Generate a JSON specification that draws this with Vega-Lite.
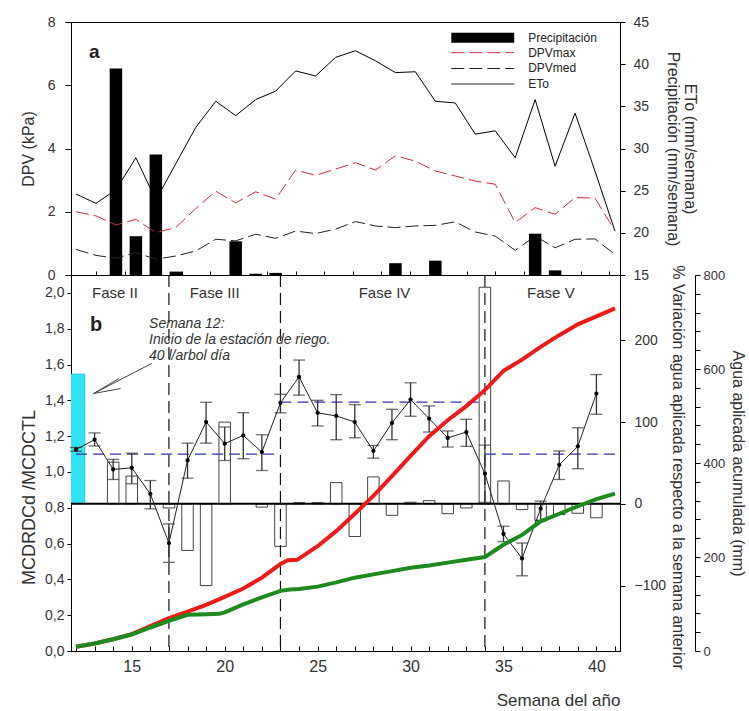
{
  "$schema": "https://vega.github.io/schema/vega-lite/v6.json",
  "padding": {"left": 19, "top": 14, "right": 0, "bottom": 0},
  "background": "white",
  "config": {
    "font": "Liberation Sans",
    "view": {"stroke": "#000", "strokeWidth": 1},
    "axis": {"grid": false, "domainColor": "#000", "tickColor": "#000", "labelColor": "#333", "titleColor": "#333", "titleFontWeight": "normal", "labelFontSize": 14, "titleFontSize": 16, "labelFont": "Liberation Sans", "titleFont": "Liberation Sans"},
    "text": {"font": "Liberation Sans"}
  },
  "datasets": {
    "one": [{}],
    "precip": [
      {"week": 14, "precip": 39.5}, {"week": 15, "precip": 19.6}, {"week": 16, "precip": 29.3}, {"week": 17, "precip": 15.4},
      {"week": 20, "precip": 19.0}, {"week": 21, "precip": 15.15}, {"week": 22, "precip": 15.25}, {"week": 28, "precip": 16.4},
      {"week": 30, "precip": 16.7}, {"week": 35, "precip": 19.9}, {"week": 36, "precip": 15.55}
    ],
    "eto": [
      {"week": 12, "eto": 24.6}, {"week": 13, "eto": 23.5}, {"week": 14, "eto": 25.1}, {"week": 15, "eto": 28.9},
      {"week": 16, "eto": 23.9}, {"week": 17, "eto": 28.2}, {"week": 18, "eto": 32.5}, {"week": 19, "eto": 35.6},
      {"week": 20, "eto": 33.9}, {"week": 21, "eto": 35.8}, {"week": 22, "eto": 36.8}, {"week": 23, "eto": 39.2},
      {"week": 24, "eto": 38.6}, {"week": 25, "eto": 40.8}, {"week": 26, "eto": 41.6}, {"week": 27, "eto": 40.4},
      {"week": 28, "eto": 39.0}, {"week": 29, "eto": 39.1}, {"week": 30, "eto": 35.6}, {"week": 31, "eto": 35.4},
      {"week": 32, "eto": 31.7}, {"week": 33, "eto": 32.1}, {"week": 34, "eto": 28.9}, {"week": 35, "eto": 35.8},
      {"week": 36, "eto": 27.9}, {"week": 37, "eto": 34.2}, {"week": 38, "eto": 27.3}, {"week": 39, "eto": 20.2}
    ],
    "dpv": [
      {"week": 12, "dpv": 2.0, "serie": "DPVmax"}, {"week": 13, "dpv": 1.87, "serie": "DPVmax"}, {"week": 14, "dpv": 1.58, "serie": "DPVmax"},
      {"week": 15, "dpv": 1.76, "serie": "DPVmax"}, {"week": 16, "dpv": 1.34, "serie": "DPVmax"}, {"week": 17, "dpv": 1.5, "serie": "DPVmax"},
      {"week": 18, "dpv": 2.1, "serie": "DPVmax"}, {"week": 19, "dpv": 2.65, "serie": "DPVmax"}, {"week": 20, "dpv": 2.28, "serie": "DPVmax"},
      {"week": 21, "dpv": 2.63, "serie": "DPVmax"}, {"week": 22, "dpv": 2.4, "serie": "DPVmax"}, {"week": 23, "dpv": 3.32, "serie": "DPVmax"},
      {"week": 24, "dpv": 3.15, "serie": "DPVmax"}, {"week": 25, "dpv": 3.35, "serie": "DPVmax"}, {"week": 26, "dpv": 3.55, "serie": "DPVmax"},
      {"week": 27, "dpv": 3.32, "serie": "DPVmax"}, {"week": 28, "dpv": 3.77, "serie": "DPVmax"}, {"week": 29, "dpv": 3.6, "serie": "DPVmax"},
      {"week": 30, "dpv": 3.29, "serie": "DPVmax"}, {"week": 31, "dpv": 3.13, "serie": "DPVmax"}, {"week": 32, "dpv": 2.97, "serie": "DPVmax"},
      {"week": 33, "dpv": 2.87, "serie": "DPVmax"}, {"week": 34, "dpv": 1.66, "serie": "DPVmax"}, {"week": 35, "dpv": 2.13, "serie": "DPVmax"},
      {"week": 36, "dpv": 1.92, "serie": "DPVmax"}, {"week": 37, "dpv": 2.45, "serie": "DPVmax"}, {"week": 38, "dpv": 2.43, "serie": "DPVmax"},
      {"week": 39, "dpv": 1.39, "serie": "DPVmax"},
      {"week": 12, "dpv": 0.81, "serie": "DPVmed"}, {"week": 13, "dpv": 0.62, "serie": "DPVmed"}, {"week": 14, "dpv": 0.53, "serie": "DPVmed"},
      {"week": 15, "dpv": 0.71, "serie": "DPVmed"}, {"week": 16, "dpv": 0.5, "serie": "DPVmed"}, {"week": 17, "dpv": 0.6, "serie": "DPVmed"},
      {"week": 18, "dpv": 0.76, "serie": "DPVmed"}, {"week": 19, "dpv": 1.13, "serie": "DPVmed"}, {"week": 20, "dpv": 1.08, "serie": "DPVmed"},
      {"week": 21, "dpv": 1.29, "serie": "DPVmed"}, {"week": 22, "dpv": 1.16, "serie": "DPVmed"}, {"week": 23, "dpv": 1.39, "serie": "DPVmed"},
      {"week": 24, "dpv": 1.31, "serie": "DPVmed"}, {"week": 25, "dpv": 1.45, "serie": "DPVmed"}, {"week": 26, "dpv": 1.69, "serie": "DPVmed"},
      {"week": 27, "dpv": 1.55, "serie": "DPVmed"}, {"week": 28, "dpv": 1.5, "serie": "DPVmed"}, {"week": 29, "dpv": 1.55, "serie": "DPVmed"},
      {"week": 30, "dpv": 1.57, "serie": "DPVmed"}, {"week": 31, "dpv": 1.68, "serie": "DPVmed"}, {"week": 32, "dpv": 1.36, "serie": "DPVmed"},
      {"week": 33, "dpv": 1.23, "serie": "DPVmed"}, {"week": 34, "dpv": 0.78, "serie": "DPVmed"}, {"week": 35, "dpv": 1.23, "serie": "DPVmed"},
      {"week": 36, "dpv": 0.86, "serie": "DPVmed"}, {"week": 37, "dpv": 1.13, "serie": "DPVmed"}, {"week": 38, "dpv": 1.14, "serie": "DPVmed"},
      {"week": 39, "dpv": 0.65, "serie": "DPVmed"}
    ],
    "mcd": [
      {"week": 12, "ratio": 1.126, "lo": 1.115, "hi": 1.137}, {"week": 13, "ratio": 1.18, "lo": 1.145, "hi": 1.218},
      {"week": 14, "ratio": 1.014, "lo": 0.958, "hi": 1.07}, {"week": 15, "ratio": 1.023, "lo": 0.934, "hi": 1.105},
      {"week": 16, "ratio": 0.877, "lo": 0.794, "hi": 0.952}, {"week": 17, "ratio": 0.603, "lo": 0.495, "hi": 0.71},
      {"week": 18, "ratio": 1.064, "lo": 0.965, "hi": 1.161}, {"week": 19, "ratio": 1.279, "lo": 1.161, "hi": 1.389},
      {"week": 20, "ratio": 1.158, "lo": 1.064, "hi": 1.251}, {"week": 21, "ratio": 1.204, "lo": 1.074, "hi": 1.331},
      {"week": 22, "ratio": 1.111, "lo": 1.008, "hi": 1.208}, {"week": 23, "ratio": 1.386, "lo": 1.33, "hi": 1.434},
      {"week": 24, "ratio": 1.531, "lo": 1.429, "hi": 1.625}, {"week": 25, "ratio": 1.33, "lo": 1.257, "hi": 1.4},
      {"week": 26, "ratio": 1.313, "lo": 1.18, "hi": 1.432}, {"week": 27, "ratio": 1.279, "lo": 1.191, "hi": 1.376},
      {"week": 28, "ratio": 1.117, "lo": 1.077, "hi": 1.148}, {"week": 29, "ratio": 1.274, "lo": 1.18, "hi": 1.35},
      {"week": 30, "ratio": 1.404, "lo": 1.311, "hi": 1.498}, {"week": 31, "ratio": 1.298, "lo": 1.223, "hi": 1.369},
      {"week": 32, "ratio": 1.19, "lo": 1.139, "hi": 1.229}, {"week": 33, "ratio": 1.223, "lo": 1.143, "hi": 1.294},
      {"week": 34, "ratio": 0.99, "lo": 0.83, "hi": 1.15}, {"week": 35, "ratio": 0.654, "lo": 0.611, "hi": 0.697},
      {"week": 36, "ratio": 0.517, "lo": 0.42, "hi": 0.603}, {"week": 37, "ratio": 0.794, "lo": 0.728, "hi": 0.837},
      {"week": 38, "ratio": 1.04, "lo": 0.958, "hi": 1.117}, {"week": 39, "ratio": 1.143, "lo": 1.018, "hi": 1.247},
      {"week": 40, "ratio": 1.438, "lo": 1.322, "hi": 1.544}
    ],
    "pct": [
      {"week": 14, "pct": 51}, {"week": 15, "pct": 34}, {"week": 17, "pct": -5}, {"week": 18, "pct": -57},
      {"week": 19, "pct": -100}, {"week": 20, "pct": 100}, {"week": 22, "pct": -4}, {"week": 23, "pct": -52},
      {"week": 24, "pct": 1.5}, {"week": 25, "pct": 1.5}, {"week": 26, "pct": 26}, {"week": 27, "pct": -40},
      {"week": 28, "pct": 33}, {"week": 29, "pct": -14}, {"week": 30, "pct": 2}, {"week": 31, "pct": 4},
      {"week": 32, "pct": -12}, {"week": 33, "pct": -5}, {"week": 34, "pct": 265}, {"week": 35, "pct": 28},
      {"week": 36, "pct": -7}, {"week": 37, "pct": -20}, {"week": 38, "pct": -13}, {"week": 39, "pct": -11.5},
      {"week": 40, "pct": -17}
    ],
    "phaseMeans": [
      {"from": 12, "to": 23, "mean": 1.1}, {"from": 23, "to": 34, "mean": 1.39}, {"from": 34, "to": 41, "mean": 1.1}
    ],
    "phaseLimits": [{"week": 17}, {"week": 23}, {"week": 34}],
    "phases": [
      {"week": 14.1, "fase": "Fase II"}, {"week": 19.46, "fase": "Fase III"}, {"week": 28.6, "fase": "Fase IV"}, {"week": 37.55, "fase": "Fase V"}
    ],
    "agua": [
      {"week": 12, "agua": 9, "serie": "RDC"}, {"week": 13, "agua": 16, "serie": "RDC"}, {"week": 14, "agua": 25, "serie": "RDC"},
      {"week": 15, "agua": 36, "serie": "RDC"}, {"week": 16, "agua": 53, "serie": "RDC"}, {"week": 17, "agua": 70, "serie": "RDC"},
      {"week": 18, "agua": 84, "serie": "RDC"}, {"week": 19, "agua": 98, "serie": "RDC"}, {"week": 20, "agua": 115, "serie": "RDC"},
      {"week": 21, "agua": 133, "serie": "RDC"}, {"week": 22, "agua": 156, "serie": "RDC"}, {"week": 23, "agua": 185, "serie": "RDC"},
      {"week": 23.4, "agua": 193, "serie": "RDC"}, {"week": 23.9, "agua": 194, "serie": "RDC"}, {"week": 25, "agua": 223, "serie": "RDC"},
      {"week": 26, "agua": 255, "serie": "RDC"}, {"week": 27, "agua": 292, "serie": "RDC"}, {"week": 28, "agua": 330, "serie": "RDC"},
      {"week": 29, "agua": 372, "serie": "RDC"}, {"week": 30, "agua": 415, "serie": "RDC"}, {"week": 31, "agua": 457, "serie": "RDC"},
      {"week": 32, "agua": 491, "serie": "RDC"}, {"week": 33, "agua": 521, "serie": "RDC"}, {"week": 34, "agua": 555, "serie": "RDC"},
      {"week": 35, "agua": 596, "serie": "RDC"}, {"week": 36, "agua": 620, "serie": "RDC"}, {"week": 37, "agua": 647, "serie": "RDC"},
      {"week": 38, "agua": 672, "serie": "RDC"}, {"week": 39, "agua": 695, "serie": "RDC"}, {"week": 40, "agua": 712, "serie": "RDC"},
      {"week": 41, "agua": 729, "serie": "RDC"},
      {"week": 12, "agua": 9, "serie": "RDCd"}, {"week": 13, "agua": 16, "serie": "RDCd"}, {"week": 14, "agua": 25, "serie": "RDCd"},
      {"week": 15, "agua": 35, "serie": "RDCd"}, {"week": 16, "agua": 50, "serie": "RDCd"}, {"week": 17, "agua": 64, "serie": "RDCd"},
      {"week": 18, "agua": 77, "serie": "RDCd"}, {"week": 19, "agua": 78, "serie": "RDCd"}, {"week": 19.7, "agua": 79, "serie": "RDCd"},
      {"week": 20, "agua": 82, "serie": "RDCd"}, {"week": 21, "agua": 99, "serie": "RDCd"}, {"week": 22, "agua": 114, "serie": "RDCd"},
      {"week": 23, "agua": 128, "serie": "RDCd"}, {"week": 23.5, "agua": 131, "serie": "RDCd"}, {"week": 24, "agua": 132, "serie": "RDCd"},
      {"week": 25, "agua": 137, "serie": "RDCd"}, {"week": 26, "agua": 146, "serie": "RDCd"}, {"week": 27, "agua": 156, "serie": "RDCd"},
      {"week": 28, "agua": 163, "serie": "RDCd"}, {"week": 29, "agua": 170, "serie": "RDCd"}, {"week": 30, "agua": 177, "serie": "RDCd"},
      {"week": 31, "agua": 182, "serie": "RDCd"}, {"week": 32, "agua": 188, "serie": "RDCd"}, {"week": 33, "agua": 194, "serie": "RDCd"},
      {"week": 34, "agua": 200, "serie": "RDCd"}, {"week": 35, "agua": 226, "serie": "RDCd"}, {"week": 36, "agua": 247, "serie": "RDCd"},
      {"week": 37, "agua": 276, "serie": "RDCd"}, {"week": 38, "agua": 292, "serie": "RDCd"}, {"week": 39, "agua": 308, "serie": "RDCd"},
      {"week": 40, "agua": 323, "serie": "RDCd"}, {"week": 41, "agua": 335, "serie": "RDCd"}
    ]
  },
  "vconcat": [
    {
      "width": 549,
      "height": 253,
      "layer": [
        {
          "layer": [
            {
              "data": {"name": "precip"},
              "mark": {"type": "bar", "width": 12.5, "color": "#000"},
              "encoding": {
                "x": {"field": "week", "type": "quantitative", "scale": {"domain": [12, 39], "nice": false, "zero": false},
                  "axis": {"orient": "bottom", "title": null, "labels": false, "tickSize": -4, "values": [13, 14.43, 15.86, 17.29, 18.71, 20.14, 21.57, 23, 24.43, 25.86, 27.29, 28.71, 30.14, 31.57, 33, 34.43, 35.86, 37.29, 38.71]}},
                "y": {"field": "precip", "type": "quantitative", "scale": {"domain": [15, 45], "nice": false, "zero": false},
                  "axis": {"orient": "right", "values": [15, 20, 25, 30, 35, 40, 45], "labelOverlap": false, "tickSize": 5, "labelPadding": 8, "title": ["ETo (mm/semana)", "Precipitación (mm/semana)"], "titlePadding": 16, "titleLineHeight": 17}},
                "y2": {"datum": 15}
              }
            },
            {
              "data": {"name": "eto"},
              "mark": {"type": "line", "color": "#000", "strokeWidth": 1},
              "encoding": {
                "x": {"field": "week", "type": "quantitative", "scale": {"domain": [12, 39], "nice": false, "zero": false}, "axis": null},
                "y": {"field": "eto", "type": "quantitative", "axis": null}
              }
            }
          ],
          "resolve": {"axis": {"x": "independent", "y": "independent"}}
        },
        {
          "layer": [
            {
              "data": {"name": "dpv"},
              "mark": {"type": "line", "strokeWidth": 1},
              "encoding": {
                "x": {"field": "week", "type": "quantitative", "scale": {"domain": [12, 39], "nice": false, "zero": false}, "axis": null},
                "y": {"field": "dpv", "type": "quantitative", "scale": {"domain": [0, 8], "nice": false},
                  "axis": {"orient": "left", "values": [0, 2, 4, 6, 8], "labelOverlap": false, "tickSize": 6, "labelPadding": 10, "title": "DPV (kPa)", "titleX": -43, "titleBaseline": "middle"}},
                "color": {"field": "serie", "type": "nominal", "scale": {"domain": ["DPVmax", "DPVmed"], "range": ["#d42a3a", "#222222"]}, "legend": null},
                "strokeDash": {"field": "serie", "type": "nominal", "scale": {"domain": ["DPVmax", "DPVmed"], "range": [[13, 5], [13, 5]]}, "legend": null}
              }
            },
            {
              "data": {"name": "one"},
              "mark": {"type": "text", "text": "a", "fontSize": 19, "fontWeight": "bold", "color": "#222", "align": "left", "baseline": "middle"},
              "encoding": {"x": {"datum": 12.65, "type": "quantitative", "axis": null}, "y": {"datum": 7.06, "type": "quantitative", "axis": null}}
            },
            {
              "data": {"name": "one"},
              "mark": {"type": "rect", "color": "#000"},
              "encoding": {"x": {"datum": 30.8, "type": "quantitative", "axis": null}, "x2": {"datum": 33.95}, "y": {"datum": 7.66, "type": "quantitative", "axis": null}, "y2": {"datum": 7.34}}
            },
            {
              "data": {"name": "one"},
              "mark": {"type": "rule", "color": "#d42a3a", "strokeWidth": 1, "strokeDash": [13, 5]},
              "encoding": {"x": {"datum": 30.8, "type": "quantitative", "axis": null}, "x2": {"datum": 33.95}, "y": {"datum": 7.03, "type": "quantitative", "axis": null}}
            },
            {
              "data": {"name": "one"},
              "mark": {"type": "rule", "color": "#222", "strokeWidth": 1, "strokeDash": [13, 5]},
              "encoding": {"x": {"datum": 30.8, "type": "quantitative", "axis": null}, "x2": {"datum": 33.95}, "y": {"datum": 6.53, "type": "quantitative", "axis": null}}
            },
            {
              "data": {"name": "one"},
              "mark": {"type": "rule", "color": "#222", "strokeWidth": 1},
              "encoding": {"x": {"datum": 30.8, "type": "quantitative", "axis": null}, "x2": {"datum": 33.95}, "y": {"datum": 6.04, "type": "quantitative", "axis": null}}
            },
            {
              "data": {"name": "one"},
              "mark": {"type": "text", "text": "Precipitación", "fontSize": 12, "color": "#222", "align": "left", "baseline": "middle"},
              "encoding": {"x": {"datum": 34.65, "type": "quantitative", "axis": null}, "y": {"datum": 7.5, "type": "quantitative", "axis": null}}
            },
            {
              "data": {"name": "one"},
              "mark": {"type": "text", "text": "DPVmax", "fontSize": 12, "color": "#222", "align": "left", "baseline": "middle"},
              "encoding": {"x": {"datum": 34.65, "type": "quantitative", "axis": null}, "y": {"datum": 7.03, "type": "quantitative", "axis": null}}
            },
            {
              "data": {"name": "one"},
              "mark": {"type": "text", "text": "DPVmed", "fontSize": 12, "color": "#222", "align": "left", "baseline": "middle"},
              "encoding": {"x": {"datum": 34.65, "type": "quantitative", "axis": null}, "y": {"datum": 6.53, "type": "quantitative", "axis": null}}
            },
            {
              "data": {"name": "one"},
              "mark": {"type": "text", "text": "ETo", "fontSize": 12, "color": "#222", "align": "left", "baseline": "middle"},
              "encoding": {"x": {"datum": 34.65, "type": "quantitative", "axis": null}, "y": {"datum": 6.04, "type": "quantitative", "axis": null}}
            }
          ],
          "resolve": {"axis": {"x": "independent", "y": "independent"}}
        }
      ],
      "resolve": {"scale": {"y": "independent"}, "axis": {"x": "independent", "y": "independent"}}
    },
    {
      "width": 549,
      "height": 376,
      "layer": [
        {
          "layer": [
            {
              "data": {"values": [{"week": 12, "pct": 159}]},
              "mark": {"type": "bar", "width": 18, "color": "#2fe3f0", "stroke": "#1aa9b5", "strokeWidth": 0.5, "clip": true},
              "encoding": {
                "x": {"field": "week", "type": "quantitative", "scale": {"domain": [12, 41], "nice": false, "zero": false},
                  "axis": {"orient": "bottom", "title": "Semana del año", "titleAnchor": "end", "titleFontSize": 17, "titlePadding": 18, "labelFontSize": 16, "values": [12, 13, 14, 15, 16, 17, 18, 19, 20, 21, 22, 23, 24, 25, 26, 27, 28, 29, 30, 31, 32, 33, 34, 35, 36, 37, 38, 39, 40, 41], "labelExpr": "datum.value % 5 == 0 ? datum.label : ''", "labelOverlap": false, "tickSize": -5, "labelPadding": 12}},
                "y": {"field": "pct", "type": "quantitative", "scale": {"domain": [-180, 280], "nice": false, "zero": false},
                  "axis": {"orient": "right", "values": [-100, 0, 100, 200], "labelOverlap": false, "tickSize": 5, "labelPadding": 9, "title": "% Variación agua aplicada respecto a la semana anterior", "titlePadding": 4, "titleY": 192}}
              }
            },
            {
              "data": {"name": "pct"},
              "mark": {"type": "bar", "width": 11.5, "fill": "#fff", "stroke": "#444", "strokeWidth": 1},
              "encoding": {
                "x": {"field": "week", "type": "quantitative", "scale": {"domain": [12, 41], "nice": false, "zero": false}, "axis": null},
                "y": {"field": "pct", "type": "quantitative", "axis": null}
              }
            },
            {
              "data": {"name": "one"},
              "mark": {"type": "rule", "color": "#000", "strokeWidth": 2},
              "encoding": {"y": {"datum": 0, "type": "quantitative", "axis": null}}
            }
          ],
          "resolve": {"axis": {"x": "independent", "y": "independent"}}
        },
        {
          "layer": [
            {
              "data": {"name": "phaseLimits"},
              "mark": {"type": "rule", "color": "#111", "strokeWidth": 1.2, "strokeDash": [12, 6]},
              "encoding": {"x": {"field": "week", "type": "quantitative", "scale": {"domain": [12, 41], "nice": false, "zero": false}, "axis": null}}
            },
            {
              "data": {"name": "phaseMeans"},
              "mark": {"type": "rule", "color": "#3232b4", "strokeWidth": 1.2, "strokeDash": [11, 6]},
              "encoding": {
                "x": {"field": "from", "type": "quantitative", "scale": {"domain": [12, 41], "nice": false, "zero": false}, "axis": null},
                "x2": {"field": "to"},
                "y": {"field": "mean", "type": "quantitative", "scale": {"domain": [0, 2.1], "nice": false, "zero": false},
                  "axis": {"orient": "left", "title": "MCDRDCd /MCDCTL", "values": [0, 0.2, 0.4, 0.6, 0.8, 1.0, 1.2, 1.4, 1.6, 1.8, 2.0], "labelExpr": "replace(format(datum.value, '.1f'), '.', ',')", "labelOverlap": false, "tickSize": 4, "labelPadding": 3, "titleFontSize": 18, "titleX": -42, "titleY": 222, "titleBaseline": "middle"}}
              }
            },
            {
              "data": {"name": "mcd"},
              "mark": {"type": "rule", "color": "#333", "strokeWidth": 1.3},
              "encoding": {
                "x": {"field": "week", "type": "quantitative", "scale": {"domain": [12, 41], "nice": false, "zero": false}, "axis": null},
                "y": {"field": "lo", "type": "quantitative", "axis": null},
                "y2": {"field": "hi"}
              }
            },
            {
              "data": {"name": "mcd"},
              "mark": {"type": "tick", "orient": "horizontal", "size": 12, "thickness": 1.3, "color": "#333"},
              "encoding": {
                "x": {"field": "week", "type": "quantitative", "scale": {"domain": [12, 41], "nice": false, "zero": false}, "axis": null},
                "y": {"field": "lo", "type": "quantitative", "axis": null}
              }
            },
            {
              "data": {"name": "mcd"},
              "mark": {"type": "tick", "orient": "horizontal", "size": 12, "thickness": 1.3, "color": "#333"},
              "encoding": {
                "x": {"field": "week", "type": "quantitative", "scale": {"domain": [12, 41], "nice": false, "zero": false}, "axis": null},
                "y": {"field": "hi", "type": "quantitative", "axis": null}
              }
            },
            {
              "data": {"name": "mcd"},
              "mark": {"type": "line", "color": "#222", "strokeWidth": 1, "point": {"filled": true, "size": 18, "color": "#000"}},
              "encoding": {
                "x": {"field": "week", "type": "quantitative", "scale": {"domain": [12, 41], "nice": false, "zero": false}, "axis": null},
                "y": {"field": "ratio", "type": "quantitative", "axis": null}
              }
            },
            {
              "data": {"name": "phases"},
              "mark": {"type": "text", "fontSize": 15, "color": "#333", "align": "center", "baseline": "middle"},
              "encoding": {
                "x": {"field": "week", "type": "quantitative", "scale": {"domain": [12, 41], "nice": false, "zero": false}, "axis": null},
                "y": {"datum": 2.0, "type": "quantitative", "axis": null},
                "text": {"field": "fase"}
              }
            },
            {
              "data": {"name": "one"},
              "mark": {"type": "text", "text": "b", "fontSize": 20, "fontWeight": "bold", "color": "#222", "align": "left", "baseline": "middle"},
              "encoding": {"x": {"datum": 12.75, "type": "quantitative", "axis": null}, "y": {"datum": 1.82, "type": "quantitative", "axis": null}}
            },
            {
              "data": {"name": "one"},
              "mark": {"type": "text", "text": ["Semana 12:", "Inicio de la estación de riego.", "40 l/arbol día"], "fontSize": 14, "fontStyle": "italic", "color": "#333", "align": "left", "baseline": "middle", "lineHeight": 16},
              "encoding": {"x": {"datum": 15.93, "type": "quantitative", "axis": null}, "y": {"datum": 1.825, "type": "quantitative", "axis": null}}
            },
            {
              "data": {"name": "one"},
              "mark": {"type": "rule", "color": "#444", "strokeWidth": 1},
              "encoding": {"x": {"datum": 16.07, "type": "quantitative", "axis": null}, "x2": {"datum": 12.95}, "y": {"datum": 1.606, "type": "quantitative", "axis": null}, "y2": {"datum": 1.438}}
            },
            {
              "data": {"name": "one"},
              "mark": {"type": "rule", "color": "#444", "strokeWidth": 1},
              "encoding": {"x": {"datum": 14.31, "type": "quantitative", "axis": null}, "x2": {"datum": 12.95}, "y": {"datum": 1.522, "type": "quantitative", "axis": null}, "y2": {"datum": 1.438}}
            },
            {
              "data": {"name": "one"},
              "mark": {"type": "rule", "color": "#444", "strokeWidth": 1},
              "encoding": {"x": {"datum": 14.4, "type": "quantitative", "axis": null}, "x2": {"datum": 12.95}, "y": {"datum": 1.466, "type": "quantitative", "axis": null}, "y2": {"datum": 1.438}}
            }
          ],
          "resolve": {"axis": {"x": "independent", "y": "independent"}}
        },
        {
          "data": {"name": "agua"},
          "mark": {"type": "line", "strokeWidth": 4},
          "encoding": {
            "x": {"field": "week", "type": "quantitative", "scale": {"domain": [12, 41], "nice": false, "zero": false}, "axis": null},
            "y": {"field": "agua", "type": "quantitative", "scale": {"domain": [0, 800], "nice": false},
              "axis": {"orient": "right", "offset": 75, "values": [0, 40, 80, 120, 160, 200, 240, 280, 320, 360, 400, 440, 480, 520, 560, 600, 640, 680, 720, 760, 800], "labelExpr": "datum.value % 200 == 0 ? datum.label : ''", "labelOverlap": false, "labelFontSize": 13, "tickSize": 5, "labelPadding": 3, "title": "Agua aplicada acumulada (mm)", "titlePadding": 5}},
            "color": {"field": "serie", "type": "nominal", "scale": {"domain": ["RDC", "RDCd"], "range": ["#f01a1a", "#1f8a1f"]}, "legend": null}
          }
        }
      ],
      "resolve": {"scale": {"y": "independent"}, "axis": {"x": "independent", "y": "independent"}}
    }
  ],
  "spacing": 0,
  "bounds": "flush",
  "resolve": {"scale": {"x": "independent", "color": "independent", "strokeDash": "independent"}}
}
